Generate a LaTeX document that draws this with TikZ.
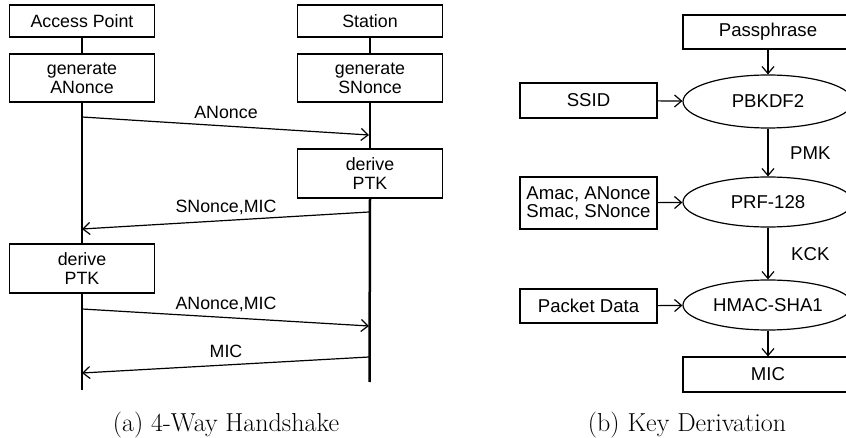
\documentclass[tikz,border=0pt]{standalone}
\usepackage{fontspec}
\setmainfont{Latin Modern Roman}
\newfontfamily\arialfont{Liberation Sans}
\usetikzlibrary{arrows.meta,shapes.geometric}

\begin{document}
\begin{tikzpicture}[x=1pt,y=-1pt,
  every node/.style={inner sep=0pt},
  txtA/.style={font=\arialfont\fontsize{17.8}{19}\selectfont, align=center},
  txtB/.style={font=\arialfont\fontsize{18.6}{19}\selectfont, align=center},
  sbox/.style={txtA, draw, line width=1.2pt, fill=white, minimum width=145pt},
  kbox/.style={txtB, draw, line width=1.2pt, fill=white, minimum width=137pt},
  wbox/.style={txtB, draw, line width=1.2pt, fill=white, minimum width=170pt},
  oval/.style={txtB, ellipse, draw, line width=1.2pt, fill=white, minimum width=170pt, minimum height=52pt},
  life/.style={line width=2.5pt},
  msg/.style={line width=1.2pt, -{Straight Barb[length=7pt,width=12pt]}},
  flow/.style={line width=1.2pt, -{Straight Barb[length=7pt,width=12pt]}},
  caption/.style={font=\fontsize{26}{28}\selectfont, anchor=base},
  lbl/.style={txtA, anchor=base},
]
\useasboundingbox (0,0) rectangle (846,438);

% ---------- (a) 4-way handshake ----------
\node[sbox, minimum height=32pt] (ap)  at (82,21)  {Access Point};
\node[sbox, minimum height=32pt] (sta) at (370,21) {Station};
\node[sbox, minimum height=48pt] (genA) at (82,78)  {generate\\ANonce};
\node[sbox, minimum height=48pt] (genS) at (370,78) {generate\\SNonce};
\node[sbox, minimum height=49pt] (derS) at (370,173.5) {derive\\PTK};
\node[sbox, minimum height=49pt] (derA) at (82,268.5) {derive\\PTK};

\coordinate (apEnd)  at (82,390);
\coordinate (staEnd) at (369.5,382);

% lifelines
\draw[life] (ap.south)   -- (genA.north);
\draw[life] (genA.south) -- (derA.north);
\draw[life] (derA.south) -- (apEnd);
\draw[life] (sta.south)  -- (genS.north);
\draw[life] (genS.south) -- (derS.north);
\draw[life] (derS.south) -- (staEnd);

% message end points on the lifelines
\coordinate (m1a) at (82,117);   \coordinate (m1b) at (369,135);
\coordinate (m2a) at (369,212);  \coordinate (m2b) at (82,229);
\coordinate (m3a) at (82,309);   \coordinate (m3b) at (369,326);
\coordinate (m4a) at (369,357);  \coordinate (m4b) at (82,373);

\draw[msg] (m1a) -- (m1b);
\draw[msg] (m2a) -- (m2b);
\draw[msg] (m3a) -- (m3b);
\draw[msg] (m4a) -- (m4b);

\node[lbl] (l1) at (226,119) {ANonce};
\node[lbl] (l2) at (226,213) {SNonce,MIC};
\node[lbl] (l3) at (226,310) {ANonce,MIC};
\node[lbl] (l4) at (226,357.5) {MIC};

\node[caption] (capA) at (226,431) {(a) 4-Way Handshake};

% ---------- (b) key derivation ----------
\node[wbox, minimum height=34pt] (pass) at (768,32) {Passphrase};
\node[oval, minimum height=53pt] (pbk) at (768,101.5) {PBKDF2};
\node[oval, minimum height=50pt] (prf) at (768,202) {PRF-128};
\node[oval, minimum height=50pt] (hmac) at (768,305) {HMAC-SHA1};
\node[wbox, minimum height=35pt] (mic) at (768,374.5) {MIC};

\node[kbox, minimum height=35pt] (ssid) at (588.5,100.5) {SSID};
\node[kbox, minimum height=52pt, font=\arialfont\fontsize{18.6}{18}\selectfont] (nonce) at (588.5,203) {Amac, ANonce\\Smac, SNonce};
\node[kbox, minimum height=34pt] (pkt) at (588.5,306) {Packet Data};

\draw[flow] (pass) -- (pbk);
\draw[flow] (ssid) -- (pbk);
\draw[flow] (pbk) -- (prf);
\draw[flow] (nonce) -- (prf);
\draw[flow] (prf) -- (hmac);
\draw[flow] (pkt) -- (hmac);
\draw[flow] (hmac) -- (mic);

\node[txtB, anchor=base west] (pmk) at (790,159.5) {PMK};
\node[txtB, anchor=base west] (kck) at (791,261) {KCK};

\node[caption] (capB) at (687,431) {(b) Key Derivation};
\end{tikzpicture}
\end{document}
